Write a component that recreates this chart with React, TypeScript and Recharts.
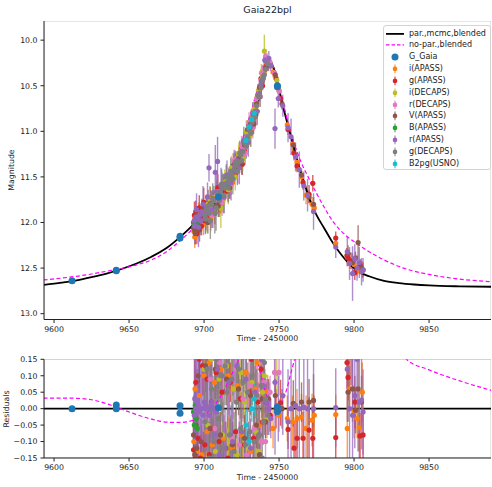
import React from 'react';
import { ComposedChart, Line, Scatter, XAxis, YAxis, CartesianGrid, ErrorBar } from 'recharts';

type Pt = [number, number, number, number]; // time, magnitude, error, residual

const X_TICKS = [9600, 9650, 9700, 9750, 9800, 9850];
const MAG_TICKS = [10, 10.5, 11, 11.5, 12, 12.5, 13];
const RES_TICKS = [-0.15, -0.1, -0.05, 0, 0.05, 0.1, 0.15];
const X_DOMAIN: [number, number] = [9593.3, 9891.3];
const MAG_DOMAIN: [number, number] = [9.79, 13.064];
const RES_DOMAIN: [number, number] = [-0.15, 0.15];

const TITLE = 'Gaia22bpl';
const X_LABEL = 'Time - 2450000';
const MAG_LABEL = 'Magnitude';
const RES_LABEL = 'Residuals';
const PAR_NAME = 'par.,mcmc,blended';
const NOPAR_NAME = 'no-par.,blended';

// model curves (time, magnitude)
const PAR_CURVE: [number, number][] = [
  [9593, 12.685], [9605, 12.66], [9615, 12.635], [9625, 12.6], [9635, 12.56], [9645, 12.51], [9655, 12.45],
  [9665, 12.375], [9675, 12.28], [9684, 12.16], [9690, 12.07], [9695, 11.99], [9700, 11.91], [9705, 11.82],
  [9710, 11.73], [9715, 11.61], [9720, 11.46], [9725, 11.27], [9730, 11.03], [9733, 10.86], [9736, 10.67],
  [9739, 10.46], [9741, 10.34], [9743, 10.26], [9744.5, 10.245], [9746, 10.29], [9748, 10.4], [9750, 10.54],
  [9753, 10.75], [9756, 10.94], [9759, 11.12], [9762, 11.31], [9765, 11.48], [9768, 11.63], [9771, 11.77],
  [9775, 11.92], [9780, 12.06], [9785, 12.2], [9790, 12.32], [9795, 12.42], [9800, 12.5], [9805, 12.555],
  [9810, 12.59], [9820, 12.64], [9830, 12.665], [9840, 12.68], [9850, 12.69], [9870, 12.7], [9892, 12.705],
];
const NOPAR_CURVE: [number, number][] = [
  [9593, 12.63], [9605, 12.61], [9615, 12.59], [9625, 12.565], [9635, 12.535], [9645, 12.505], [9655, 12.465],
  [9665, 12.41], [9675, 12.32], [9684, 12.2], [9690, 12.11], [9695, 12.02], [9700, 11.92], [9705, 11.81],
  [9710, 11.7], [9715, 11.55], [9720, 11.37], [9725, 11.12], [9730, 10.86], [9733, 10.7], [9736, 10.53],
  [9739, 10.38], [9741, 10.3], [9743, 10.25], [9745, 10.26], [9747, 10.32], [9749, 10.43], [9752, 10.63],
  [9755, 10.84], [9758, 11.03], [9761, 11.18], [9765, 11.35], [9770, 11.52], [9775, 11.68], [9780, 11.83],
  [9786, 11.99], [9793, 12.12], [9800, 12.21], [9810, 12.32], [9820, 12.41], [9833, 12.5], [9850, 12.57],
  [9870, 12.62], [9892, 12.65],
];
const PAR_RES: [number, number][] = [[9593, 0], [9892, 0]];
const NOPAR_RES: [number, number][] = [
  [9593, 0.032], [9610, 0.032], [9625, 0.027], [9635, 0.015], [9644, 0.0], [9655, -0.018], [9665, -0.032],
  [9675, -0.041], [9684, -0.042], [9693, -0.035], [9700, -0.02], [9710, 0.03], [9718, 0.1], [9724, 0.16],
  [9729, 0.22], [9733, 0.19], [9737, 0.12], [9741, 0.05], [9744, 0.0], [9746, -0.025], [9749, -0.01],
  [9752, 0.02], [9755, 0.057], [9758, 0.11], [9761, 0.16], [9770, 0.3], [9800, 0.45], [9820, 0.28],
  [9835, 0.15], [9850, 0.118], [9870, 0.085], [9892, 0.055],
];

const G_GAIA: Pt[] = [
  [9612, 12.64, 0.01, 0.0], [9641.5, 12.53, 0.01, 0.011], [9641.5, 12.525, 0.01, 0.0],
  [9684, 12.15, 0.01, 0.009], [9684, 12.17, 0.01, -0.014], [9709.6, 11.72, 0.01, 0.003],
  [9748.9, 10.5, 0.01, 0.006], [9748.9, 10.51, 0.01, -0.009],
];
const I_APASS: Pt[] = [
  [9693.2, 12.1, 0.07, -0.1], [9694.0, 11.95, 0.06, 0.06], [9695.5, 12.06, 0.08, -0.13], [9697.0, 11.92, 0.05, 0.04],
  [9698.5, 12.0, 0.09, -0.14], [9700.0, 11.84, 0.06, 0.1], [9702.0, 11.95, 0.07, -0.07], [9703.5, 11.8, 0.05, 0.14],
  [9705.5, 11.9, 0.08, -0.11], [9707.0, 11.72, 0.06, 0.08], [9709.0, 11.82, 0.07, -0.16], [9711.0, 11.64, 0.05, 0.12],
  [9713.0, 11.74, 0.08, -0.09], [9716.0, 11.52, 0.06, 0.1], [9719.0, 11.56, 0.07, -0.12], [9722.0, 11.32, 0.06, 0.07],
  [9725.0, 11.34, 0.08, -0.08], [9728.0, 11.08, 0.05, 0.11], [9731.0, 10.99, 0.06, -0.13], [9734.0, 10.74, 0.05, 0.06],
  [9737.0, 10.6, 0.06, -0.05], [9740.0, 10.36, 0.05, 0.03], [9742.4, 10.22, 0.05, 0.052], [9746.0, 10.35, 0.06, -0.06],
  [9750.0, 10.55, 0.05, -0.02], [9755.5, 10.93, 0.07, -0.03], [9759.0, 11.14, 0.08, -0.04], [9762.0, 11.34, 0.09, -0.03],
  [9765.0, 11.5, 0.07, -0.025], [9768.0, 11.7, 0.1, -0.06], [9772.0, 11.8, 0.08, -0.035], [9773.5, 11.84, 0.06, -0.02],
  [9787.8, 12.23, 0.06, -0.018], [9795.5, 12.38, 0.1, -0.06], [9797.0, 12.44, 0.07, 0.06], [9800.0, 12.46, 0.08, -0.01],
  [9802.0, 12.53, 0.06, -0.03], [9803.5, 12.5, 0.07, -0.058], [9805.5, 12.52, 0.09, 0.05],
  [9693.8, 12.16, 0.12, -0.2], [9696.5, 11.88, 0.1, 0.16], [9699.5, 12.02, 0.12, -0.19], [9701.5, 11.8, 0.1, 0.17],
  [9704.5, 11.96, 0.13, -0.18], [9708.2, 11.7, 0.1, 0.2], [9710.8, 11.8, 0.11, -0.17], [9714.2, 11.56, 0.1, 0.18],
  [9718.2, 11.58, 0.12, -0.2], [9723.2, 11.26, 0.1, 0.16], [9729.2, 11.12, 0.11, -0.17], [9735.5, 10.62, 0.1, 0.14],
];
const G_APASS: Pt[] = [
  [9693.0, 12.0, 0.1, -0.125], [9694.5, 11.88, 0.12, 0.08], [9696.0, 12.08, 0.08, -0.09], [9697.5, 11.95, 0.07, -0.15],
  [9699.0, 11.85, 0.09, 0.13], [9700.5, 11.98, 0.06, -0.11], [9702.0, 11.8, 0.08, 0.09], [9703.5, 11.92, 0.1, -0.14],
  [9705.0, 11.77, 0.07, 0.02], [9706.5, 11.86, 0.08, -0.06], [9708.0, 11.7, 0.06, 0.11], [9710.0, 11.8, 0.09, -0.1],
  [9712.0, 11.62, 0.07, 0.05], [9714.5, 11.66, 0.08, -0.12], [9717.5, 11.48, 0.06, 0.08], [9721.0, 11.46, 0.07, -0.07],
  [9724.0, 11.24, 0.06, 0.03], [9727.0, 11.22, 0.09, -0.11], [9730.0, 10.98, 0.06, 0.05], [9733.0, 10.92, 0.08, -0.09],
  [9736.0, 10.62, 0.06, 0.02], [9739.0, 10.5, 0.05, -0.04], [9741.5, 10.28, 0.06, 0.02], [9744.0, 10.26, 0.05, -0.02],
  [9748.0, 10.42, 0.06, 0.0], [9751.0, 10.64, 0.07, 0.018], [9756.0, 10.98, 0.06, -0.063], [9760.0, 11.24, 0.08, -0.12],
  [9762.0, 11.38, 0.07, -0.09], [9766.0, 11.56, 0.08, -0.09], [9770.0, 11.69, 0.1, -0.065], [9772.5, 11.57, 0.09, -0.09],
  [9787.8, 12.17, 0.07, -0.088], [9795.3, 12.36, 0.08, 0.14], [9796.0, 12.39, 0.07, 0.095], [9798.0, 12.42, 0.09, 0.16],
  [9800.5, 12.55, 0.08, 0.02], [9804.0, 12.47, 0.07, -0.083], [9806.0, 12.52, 0.08, -0.08],
  [9693.6, 11.92, 0.15, 0.18], [9695.2, 12.12, 0.12, -0.2], [9696.8, 11.84, 0.14, 0.15], [9698.2, 12.04, 0.1, -0.18],
  [9699.8, 11.78, 0.16, 0.2], [9701.2, 11.96, 0.12, -0.16], [9704.2, 11.74, 0.13, 0.17], [9707.2, 11.9, 0.12, -0.19],
  [9709.2, 11.62, 0.15, 0.18], [9711.3, 11.78, 0.12, -0.2], [9716.0, 11.64, 0.13, -0.15], [9719.5, 11.38, 0.14, 0.16],
  [9725.5, 11.36, 0.12, -0.17], [9731.5, 10.88, 0.12, 0.15], [9734.5, 10.82, 0.12, -0.16], [9738.0, 10.42, 0.1, 0.12],
];
const I_DECAPS: Pt[] = [
  [9700.0, 11.88, 0.1, 0.12], [9702.5, 11.8, 0.08, -0.05], [9705.0, 11.92, 0.12, 0.15], [9707.5, 11.72, 0.07, -0.13],
  [9710.0, 11.66, 0.09, 0.09], [9712.5, 11.78, 0.11, -0.08], [9715.0, 11.55, 0.08, 0.13], [9717.0, 11.5, 0.07, -0.1],
  [9719.5, 11.42, 0.09, 0.06], [9722.0, 11.3, 0.08, -0.14], [9724.5, 11.22, 0.07, 0.11], [9727.0, 11.14, 0.1, 0.02],
  [9729.5, 11.0, 0.08, -0.12], [9732.0, 10.84, 0.07, 0.08], [9734.5, 10.7, 0.09, -0.07], [9736.5, 10.55, 0.07, -0.13],
  [9739.0, 10.4, 0.08, 0.05], [9740.2, 10.12, 0.18, 0.1], [9742.0, 10.25, 0.06, -0.03], [9748.5, 10.44, 0.07, 0.107],
  [9701.2, 11.96, 0.16, -0.2], [9703.8, 11.74, 0.14, 0.2], [9706.2, 11.86, 0.2, -0.18], [9708.8, 11.66, 0.15, 0.19],
  [9711.2, 11.84, 0.22, -0.2], [9713.8, 11.56, 0.14, 0.18], [9716.2, 11.64, 0.16, -0.2], [9718.2, 11.4, 0.13, 0.2],
  [9720.8, 11.5, 0.15, -0.17], [9723.2, 11.24, 0.12, 0.19], [9725.8, 11.3, 0.14, -0.2], [9728.2, 11.0, 0.12, 0.18],
  [9730.8, 11.04, 0.13, -0.18], [9733.2, 10.76, 0.11, 0.17], [9735.8, 10.7, 0.12, -0.16], [9738.2, 10.36, 0.1, 0.14],
];
const R_DECAPS: Pt[] = [
  [9704.0, 11.84, 0.08, 0.09], [9707.0, 11.76, 0.07, -0.06], [9710.5, 11.7, 0.09, 0.14], [9713.5, 11.62, 0.08, -0.12],
  [9716.0, 11.58, 0.07, 0.05], [9718.5, 11.46, 0.08, -0.09], [9721.0, 11.36, 0.07, 0.12], [9723.5, 11.3, 0.09, -0.11],
  [9726.0, 11.2, 0.07, 0.03], [9728.5, 11.06, 0.08, -0.14], [9731.0, 10.92, 0.07, 0.07], [9733.5, 10.8, 0.06, -0.06],
  [9736.0, 10.62, 0.07, 0.04], [9738.0, 10.44, 0.06, -0.1], [9740.0, 10.3, 0.07, 0.08], [9742.0, 10.2, 0.06, -0.02],
  [9744.0, 10.24, 0.05, 0.05], [9747.0, 10.36, 0.06, 0.11], [9750.0, 10.56, 0.07, 0.11],
  [9705.5, 11.92, 0.14, -0.19], [9708.5, 11.68, 0.12, 0.2], [9712.0, 11.78, 0.15, -0.2], [9715.0, 11.5, 0.12, 0.18],
  [9717.5, 11.6, 0.14, -0.17], [9720.0, 11.32, 0.12, 0.2], [9722.5, 11.44, 0.13, -0.19], [9725.0, 11.16, 0.11, 0.16],
  [9727.5, 11.24, 0.13, -0.18], [9730.0, 10.9, 0.11, 0.19], [9732.5, 10.96, 0.12, -0.17], [9735.0, 10.64, 0.1, 0.16],
  [9737.5, 10.62, 0.11, -0.15], [9739.0, 10.36, 0.09, 0.14], [9741.0, 10.18, 0.08, -0.1],
];
const V_APASS: Pt[] = [
  [9693.0, 12.06, 0.08, -0.08], [9693.8, 12.09, 0.07, -0.14], [9694.6, 11.96, 0.06, -0.05], [9696.0, 12.02, 0.09, 0.1],
  [9698.0, 11.9, 0.07, -0.1], [9701.0, 11.94, 0.08, 0.13], [9704.0, 11.8, 0.06, -0.06], [9707.5, 11.82, 0.09, 0.12],
  [9711.0, 11.66, 0.07, -0.08], [9715.0, 11.6, 0.08, 0.09], [9719.0, 11.45, 0.07, -0.11], [9723.0, 11.3, 0.08, 0.06],
  [9727.0, 11.15, 0.07, -0.09], [9731.0, 10.92, 0.06, 0.04], [9735.0, 10.7, 0.07, -0.05], [9738.5, 10.45, 0.06, 0.03],
  [9741.0, 10.3, 0.05, -0.04], [9743.0, 10.28, 0.06, 0.03], [9747.5, 10.38, 0.05, 0.04], [9752.0, 10.7, 0.06, 0.0],
  [9759.5, 11.15, 0.07, 0.016], [9765.0, 11.48, 0.06, 0.02], [9770.0, 11.72, 0.07, 0.02], [9773.0, 11.8, 0.08, 0.025],
  [9796.0, 12.34, 0.09, 0.05], [9799.0, 12.44, 0.1, 0.06], [9801.0, 12.39, 0.07, -0.005], [9802.7, 12.22, 0.19, 0.06],
  [9805.0, 12.5, 0.08, 0.02],
  [9694.2, 12.12, 0.12, -0.2], [9695.2, 11.92, 0.1, -0.12], [9697.0, 12.08, 0.13, 0.17], [9699.5, 11.84, 0.11, -0.18],
  [9702.5, 12.0, 0.12, 0.2], [9706.0, 11.74, 0.1, -0.16], [9709.5, 11.82, 0.12, 0.18], [9713.0, 11.58, 0.11, -0.19],
  [9717.0, 11.62, 0.12, 0.17], [9721.0, 11.34, 0.1, -0.18], [9725.0, 11.34, 0.12, 0.19], [9729.0, 10.98, 0.1, -0.17],
  [9733.0, 10.92, 0.11, 0.16], [9737.0, 10.52, 0.1, -0.14],
];
const B_APASS: Pt[] = [
  [9693.0, 12.0, 0.05, -0.01], [9693.5, 12.03, 0.06, -0.05], [9694.2, 11.98, 0.05, 0.01],
  [9694.8, 12.02, 0.06, -0.03], [9695.5, 11.99, 0.05, -0.06],
];
const R_APASS: Pt[] = [
  [9693.5, 11.98, 0.08, -0.02], [9694.5, 11.94, 0.12, 0.0], [9695.5, 11.96, 0.1, 0.02], [9697.0, 11.92, 0.09, -0.01],
  [9698.5, 11.88, 0.14, 0.0], [9700.0, 11.9, 0.1, 0.02], [9701.5, 11.84, 0.13, 0.0], [9703.3, 11.4, 0.15, -0.02],
  [9704.5, 11.8, 0.15, 0.01], [9706.0, 11.75, 0.1, 0.0], [9707.5, 11.45, 0.3, -0.08], [9709.0, 11.33, 0.27, 0.12],
  [9710.5, 11.68, 0.12, -0.14], [9712.0, 11.62, 0.14, 0.1], [9714.0, 11.58, 0.12, -0.12], [9716.5, 11.5, 0.1, 0.08],
  [9719.0, 11.44, 0.12, -0.1], [9722.0, 11.32, 0.1, 0.13], [9725.0, 11.22, 0.12, -0.07], [9728.0, 11.1, 0.1, 0.09],
  [9731.0, 10.95, 0.09, -0.12], [9734.0, 10.78, 0.08, 0.05], [9737.0, 10.58, 0.09, -0.08], [9739.5, 10.4, 0.08, 0.07],
  [9742.0, 10.24, 0.07, 0.02], [9744.5, 10.28, 0.06, -0.03], [9747.3, 10.97, 0.22, 0.08], [9749.5, 10.64, 0.1, 0.0],
  [9752.5, 10.72, 0.12, 0.04], [9756.0, 10.96, 0.16, -0.04], [9758.0, 11.06, 0.2, 0.0], [9761.0, 11.28, 0.16, 0.01],
  [9763.5, 11.42, 0.2, 0.0], [9766.5, 11.6, 0.16, 0.005], [9769.0, 11.7, 0.18, 0.0], [9773.0, 11.88, 0.2, 0.0],
  [9787.8, 12.27, 0.12, 0.003], [9795.5, 12.32, 0.16, 0.12], [9797.0, 12.45, 0.18, 0.0], [9799.0, 12.56, 0.3, -0.02],
  [9800.5, 12.4, 0.16, 0.04], [9802.0, 12.5, 0.14, 0.15], [9803.5, 12.44, 0.17, 0.02], [9805.0, 12.54, 0.15, 0.026],
  [9806.0, 12.52, 0.13, -0.01],
  [9693.8, 12.04, 0.2, 0.03], [9695.0, 11.86, 0.18, -0.01], [9696.3, 12.05, 0.22, 0.01], [9697.8, 11.98, 0.16, 0.0],
  [9699.3, 11.8, 0.2, -0.02], [9700.8, 11.95, 0.18, 0.01], [9702.3, 11.72, 0.16, 0.0], [9705.3, 11.86, 0.2, 0.02],
  [9708.3, 11.66, 0.22, -0.01], [9711.3, 11.6, 0.2, 0.2], [9713.3, 11.72, 0.18, -0.2], [9715.3, 11.48, 0.16, 0.22],
  [9718.0, 11.56, 0.2, -0.19], [9720.5, 11.38, 0.16, 0.18], [9723.5, 11.4, 0.18, -0.22], [9726.5, 11.1, 0.15, 0.2],
  [9729.5, 11.12, 0.16, -0.2], [9732.5, 10.82, 0.14, 0.17], [9735.5, 10.78, 0.15, -0.18], [9738.0, 10.48, 0.12, 0.15],
  [9740.5, 10.22, 0.1, 0.02], [9743.2, 10.2, 0.08, 0.0],
];
const G_DECAPS: Pt[] = [
  [9700.5, 11.92, 0.1, -0.04], [9702.0, 11.86, 0.12, 0.12], [9703.5, 11.9, 0.09, -0.15], [9705.0, 11.8, 0.15, 0.06],
  [9706.5, 11.76, 0.16, -0.1], [9708.0, 11.84, 0.25, 0.15], [9709.5, 11.7, 0.12, -0.03], [9711.0, 11.66, 0.1, 0.1],
  [9712.5, 11.6, 0.14, -0.12], [9714.0, 11.62, 0.12, 0.13], [9715.5, 11.56, 0.11, 0.05], [9717.0, 11.52, 0.13, -0.08],
  [9718.5, 11.48, 0.1, 0.09], [9720.0, 11.42, 0.12, -0.13], [9721.5, 11.38, 0.11, 0.02], [9723.0, 11.34, 0.12, 0.12],
  [9724.5, 11.26, 0.1, -0.06], [9726.0, 11.22, 0.11, 0.08], [9727.5, 11.14, 0.1, -0.11], [9729.0, 11.06, 0.09, 0.05],
  [9730.5, 10.99, 0.11, -0.07], [9732.0, 10.9, 0.09, 0.1], [9733.5, 10.82, 0.1, -0.1], [9735.0, 10.72, 0.08, 0.04],
  [9736.5, 10.62, 0.09, -0.08], [9738.0, 10.52, 0.08, 0.07], [9739.5, 10.42, 0.07, -0.04], [9741.0, 10.32, 0.07, 0.03],
  [9742.5, 10.26, 0.06, -0.02],
  [9701.2, 11.96, 0.14, 0.2], [9702.8, 11.82, 0.18, -0.22], [9704.2, 11.98, 0.2, 0.18], [9705.8, 11.74, 0.17, -0.2],
  [9707.2, 11.9, 0.22, 0.25], [9708.8, 11.68, 0.15, -0.18], [9710.2, 11.76, 0.18, 0.2], [9711.8, 11.58, 0.16, -0.24],
  [9713.2, 11.7, 0.2, 0.19], [9714.8, 11.5, 0.14, -0.2], [9716.2, 11.62, 0.16, 0.22], [9717.8, 11.44, 0.15, -0.17],
  [9719.2, 11.52, 0.17, 0.21], [9720.8, 11.34, 0.13, -0.22], [9722.2, 11.44, 0.15, 0.18], [9723.8, 11.24, 0.14, -0.2],
  [9725.2, 11.32, 0.16, 0.23], [9726.8, 11.12, 0.12, -0.19], [9728.2, 11.16, 0.14, 0.17], [9729.8, 10.98, 0.13, -0.21],
  [9731.2, 11.02, 0.15, 0.2], [9732.8, 10.8, 0.12, -0.18], [9734.2, 10.84, 0.13, 0.19], [9735.8, 10.6, 0.12, -0.17],
  [9737.2, 10.62, 0.11, 0.16], [9738.8, 10.44, 0.1, -0.15], [9740.2, 10.38, 0.1, 0.14],
];
const B2PG_USNO: Pt[] = [
  [9728.0, 11.1, 0.05, -0.05], [9730.0, 10.95, 0.04, -0.1], [9731.8, 10.87, 0.04, 0.0], [9733.5, 10.8, 0.05, 0.03],
];

const SERIES = [
  { name: 'i(APASS)', color: '#ff7f0e', data: I_APASS },
  { name: 'g(APASS)', color: '#d62728', data: G_APASS },
  { name: 'i(DECAPS)', color: '#bcbd22', data: I_DECAPS },
  { name: 'r(DECAPS)', color: '#e377c2', data: R_DECAPS },
  { name: 'V(APASS)', color: '#8c564b', data: V_APASS },
  { name: 'B(APASS)', color: '#2ca02c', data: B_APASS },
  { name: 'r(APASS)', color: '#9467bd', data: R_APASS },
  { name: 'g(DECAPS)', color: '#7f7f7f', data: G_DECAPS },
  { name: 'B2pg(USNO)', color: '#17becf', data: B2PG_USNO },
];
const GAIA = { name: 'G_Gaia', color: '#1f77b4', data: G_GAIA };

const FONT = 'DejaVu Sans, sans-serif';
const tickStyle = { fontSize: 7.8, fill: '#222', fontFamily: FONT };
const DOT_R = 2.6;
const GAIA_R = 3.5;

const topPts = (a: Pt[]) => a.map(([t, m, e]) => ({ t, m, e }));
const resPts = (a: Pt[]) => a.map(([t, , e, r]) => ({ t, r, e }));
const curve = (a: [number, number][], key: string) => a.map(([t, v]) => ({ t, [key]: v }));

const dot = (r: number, c: string) => (p: any) =>
  p.cx == null || p.cy == null ? <g /> : <circle cx={p.cx} cy={p.cy} r={r} fill={c} />;

const minus = (s: string) => s.replace('-', '\u2212');

function renderScatters(key: 'm' | 'r', mk: (a: Pt[]) => any[]) {
  return SERIES.map((s) => (
    <Scatter key={s.name + key} name={s.name} data={mk(s.data)} dataKey={key} isAnimationActive={false}
      shape={dot(DOT_R, s.color)}>
      <ErrorBar dataKey="e" direction="y" width={0} stroke={s.color} strokeWidth={1.4} strokeOpacity={0.75} />
    </Scatter>
  ));
}

type PanelProps = {
  top: number; height: number; mTop: number; xH: number; yDomain: [number, number]; yTicks: number[];
  yFmt: (v: number) => string; reversed?: boolean; children?: React.ReactNode;
};

const WIDTH = 492;
const Y_W = 44;
const M_RIGHT = 1;

function axes(p: PanelProps, labels: boolean) {
  return [
    <XAxis key="xb" dataKey="t" type="number" domain={X_DOMAIN} ticks={X_TICKS} allowDataOverflow interval={0}
      height={p.xH} tick={labels ? tickStyle : false} tickLine={labels} tickSize={3.5} tickMargin={3}
      stroke={labels ? '#222' : 'none'} />,
    <XAxis key="xt" xAxisId="top" orientation="top" type="number" domain={X_DOMAIN} allowDataOverflow height={0}
      tick={false} tickLine={false} stroke={labels ? '#222' : 'none'} />,
    <YAxis key="yl" type="number" domain={p.yDomain} reversed={p.reversed} ticks={p.yTicks} allowDataOverflow
      interval={0} width={Y_W} tick={labels ? tickStyle : false} tickLine={labels} tickSize={3.5} tickMargin={3}
      stroke={labels ? '#222' : 'none'} tickFormatter={p.yFmt} />,
    <YAxis key="yr" yAxisId="right" orientation="right" type="number" domain={[0, 1]} width={0} tick={false}
      tickLine={false} stroke={labels ? '#222' : 'none'} />,
  ];
}

function Panel(p: PanelProps) {
  const margin = { top: p.mTop, right: M_RIGHT, bottom: 0, left: 0 };
  const plotH = p.height - p.mTop - p.xH;
  const plotW = WIDTH - Y_W - M_RIGHT;
  return (
    <>
      <div style={{ position: 'absolute', left: Y_W, top: p.top + p.mTop, width: plotW, height: plotH, overflow: 'hidden' }}>
        <div style={{ position: 'absolute', left: -Y_W, top: -p.mTop }}>
          <ComposedChart width={WIDTH} height={p.height} margin={margin}>
            <CartesianGrid stroke="#c4c4c4" strokeWidth={0.9} />
            {axes(p, false)}
            {p.children}
          </ComposedChart>
        </div>
      </div>
      <div style={{ position: 'absolute', left: 0, top: p.top }}>
        <ComposedChart width={WIDTH} height={p.height} margin={margin}>
          {axes(p, true)}
        </ComposedChart>
      </div>
    </>
  );
}

const Label = ({ x, y, text, size = 7.8, rotate = false }: any) => (
  <div style={{
    position: 'absolute', left: x, top: y, fontSize: size, fontFamily: FONT, color: '#222', whiteSpace: 'nowrap',
    transform: `translate(-50%, -50%)${rotate ? ' rotate(-90deg)' : ''}`, lineHeight: 1,
  }}>{text}</div>
);

const LegendBox = () => {
  const items: any[] = [
    { name: PAR_NAME, kind: 'line', color: '#000' },
    { name: NOPAR_NAME, kind: 'dash', color: '#ff00ff' },
    { name: GAIA.name, kind: 'gaia', color: GAIA.color },
    ...SERIES.map((s) => ({ name: s.name, kind: 'err', color: s.color })),
  ];
  return (
    <div style={{
      position: 'absolute', left: 383, top: 25, width: 106, height: 143, border: '1px solid #d4d4d4',
      borderRadius: 3, background: 'rgba(255,255,255,0.85)', fontFamily: FONT, fontSize: 8, color: '#222',
    }}>
      {items.map((it, i) => (
        <div key={it.name} style={{ position: 'absolute', left: 0, top: 1.6 + i * 11.82, height: 11.82, width: 106 }}>
          <svg width={22} height={11.82} style={{ position: 'absolute', left: 1, top: 0 }}>
            {it.kind === 'line' && <line x1={1} x2={19} y1={5.9} y2={5.9} stroke={it.color} strokeWidth={1.8} />}
            {it.kind === 'dash' && <line x1={1} x2={19} y1={5.9} y2={5.9} stroke={it.color} strokeWidth={1.2} strokeDasharray="3.5 2" />}
            {it.kind === 'gaia' && <circle cx={10} cy={5.9} r={GAIA_R} fill={it.color} />}
            {it.kind === 'err' && (
              <g>
                <line x1={10} x2={10} y1={1.6} y2={10.2} stroke={it.color} strokeWidth={1.3} strokeOpacity={0.75} />
                <circle cx={10} cy={5.9} r={2.3} fill={it.color} />
              </g>
            )}
          </svg>
          <div style={{ position: 'absolute', left: 25, top: 0, lineHeight: '11.82px', whiteSpace: 'nowrap' }}>{it.name}</div>
        </div>
      ))}
    </div>
  );
};

export default function App() {
  return (
    <div style={{ position: 'absolute', left: 0, top: 0, width: 492, height: 487, background: '#fff', overflow: 'hidden', fontFamily: FONT }}>
      <Panel top={0} height={345} mTop={21} xH={25.5} yDomain={MAG_DOMAIN} yTicks={MAG_TICKS} reversed
        yFmt={(v: number) => v.toFixed(1)}>
        {renderScatters('m', topPts)}
        <Line data={curve(PAR_CURVE, 'm')} dataKey="m" type="monotone" stroke="#000" strokeWidth={1.8}
          dot={false} isAnimationActive={false} />
        <Line data={curve(NOPAR_CURVE, 'm')} dataKey="m" type="monotone" stroke="#ff00ff" strokeWidth={1.2}
          strokeDasharray="4 2.5" dot={false} isAnimationActive={false} />
        <Scatter name={GAIA.name} data={topPts(GAIA.data)} dataKey="m" isAnimationActive={false} shape={dot(GAIA_R, GAIA.color)} />
      </Panel>
      <Panel top={340} height={147} mTop={19.3} xH={29} yDomain={RES_DOMAIN} yTicks={RES_TICKS}
        yFmt={(v: number) => minus(v.toFixed(2))}>
        <Line data={curve(PAR_RES, 'r')} dataKey="r" type="linear" stroke="#000" strokeWidth={1.8}
          dot={false} isAnimationActive={false} />
        {renderScatters('r', resPts)}
        <Line data={curve(NOPAR_RES, 'r')} dataKey="r" type="monotone" stroke="#ff00ff" strokeWidth={1.2}
          strokeDasharray="4 2.5" dot={false} isAnimationActive={false} />
        <Scatter name={GAIA.name} data={resPts(GAIA.data)} dataKey="r" isAnimationActive={false} shape={dot(GAIA_R, GAIA.color)} />
      </Panel>
      <Label x={267.5} y={10} text={TITLE} size={9.5} />
      <Label x={267.5} y={339} text={X_LABEL} />
      <Label x={267.5} y={478} text={X_LABEL} />
      <Label x={12} y={170} text={MAG_LABEL} rotate />
      <Label x={7} y={408.7} text={RES_LABEL} rotate />
      <LegendBox />
    </div>
  );
}
